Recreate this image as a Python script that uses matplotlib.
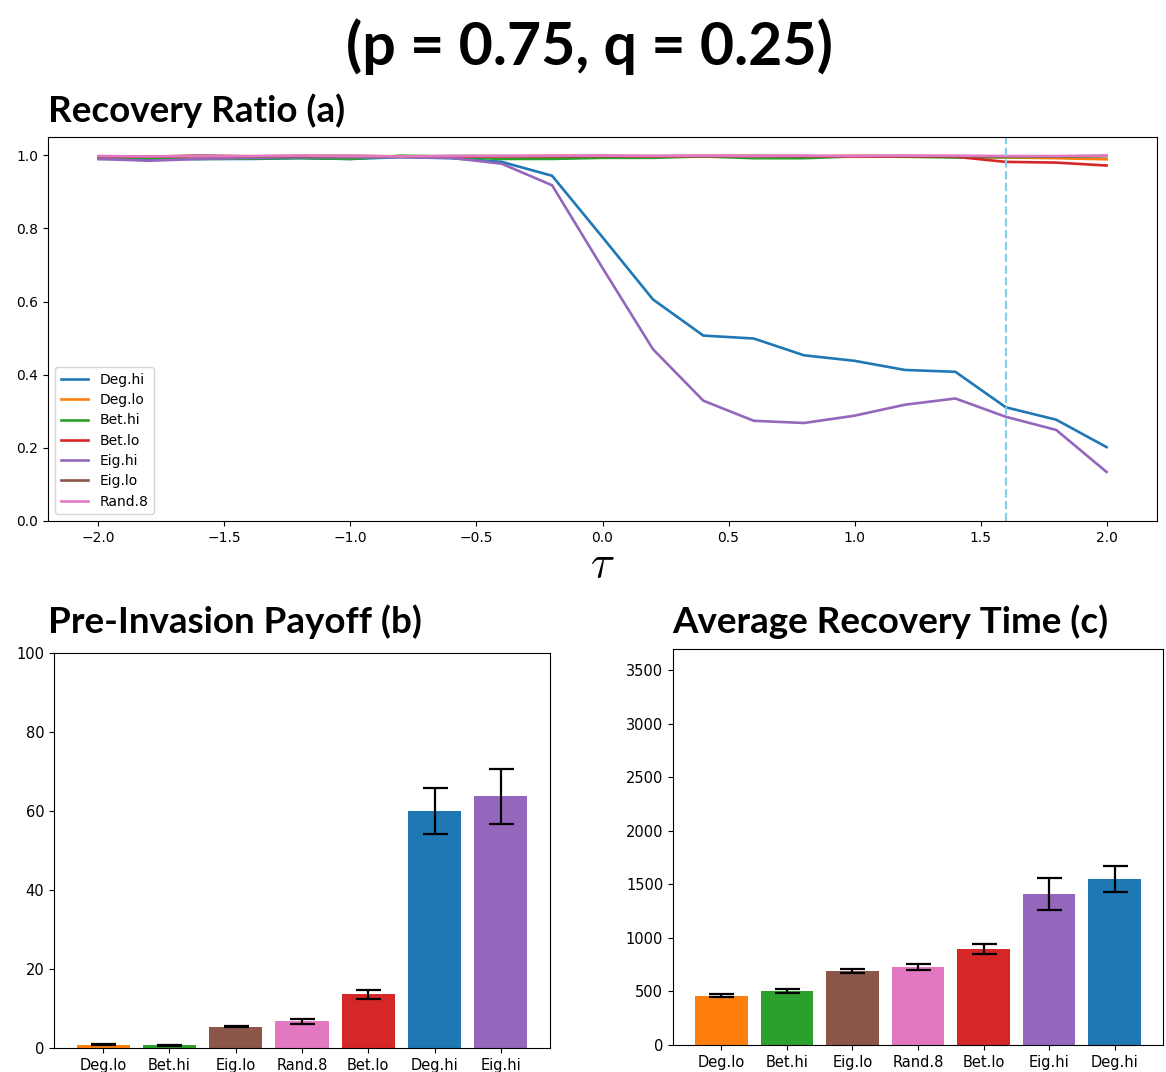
import numpy as np
import matplotlib.pyplot as plt

plt.rcParams['mathtext.fontset'] = 'cm'

# tau sweep for the recovery ratio panel
tau = [-2.0, -1.8, -1.6, -1.4, -1.2, -1.0, -0.8, -0.6, -0.4, -0.2, 0.0,
       0.2, 0.4, 0.6, 0.8, 1.0, 1.2, 1.4, 1.6, 1.8, 2.0]

deg_hi = [0.990, 0.990, 0.990, 0.990, 0.992, 0.990, 0.995, 0.992, 0.982, 0.944, 0.776,
          0.606, 0.507, 0.499, 0.453, 0.438, 0.413, 0.408, 0.311, 0.277, 0.202]
deg_lo = [0.996, 0.997, 0.998, 0.997, 0.998, 0.997, 0.996, 0.997, 0.997, 0.996, 0.997,
          0.997, 0.998, 0.997, 0.997, 0.998, 0.997, 0.996, 0.994, 0.992, 0.989]
bet_hi = [0.993, 0.992, 0.990, 0.991, 0.993, 0.990, 0.999, 0.996, 0.990, 0.990, 0.993,
          0.993, 0.997, 0.992, 0.992, 0.997, 0.996, 0.994, 0.995, 0.996, 0.998]
bet_lo = [0.996, 0.996, 0.998, 0.997, 0.998, 0.998, 0.997, 0.996, 0.997, 0.998, 0.998,
          0.997, 0.998, 0.998, 0.998, 0.996, 0.997, 0.996, 0.982, 0.980, 0.972]
eig_hi = [0.990, 0.985, 0.990, 0.993, 0.995, 0.995, 0.995, 0.993, 0.977, 0.918, 0.692,
          0.470, 0.329, 0.274, 0.268, 0.288, 0.318, 0.335, 0.285, 0.249, 0.134]
eig_lo = [0.997, 0.996, 0.999, 0.997, 0.997, 0.998, 0.997, 0.998, 0.998, 0.997, 0.998,
          0.998, 0.997, 0.998, 0.997, 0.998, 0.998, 0.997, 0.997, 0.997, 0.998]
rand_8 = [0.998, 0.997, 0.998, 0.998, 0.999, 0.998, 0.997, 0.998, 0.998, 0.999, 0.999,
          0.998, 0.999, 0.998, 0.999, 0.998, 0.999, 0.999, 0.998, 0.998, 0.999]

series_names = ['Deg.hi', 'Deg.lo', 'Bet.hi', 'Bet.lo', 'Eig.hi', 'Eig.lo', 'Rand.8']
series_vals = [deg_hi, deg_lo, bet_hi, bet_lo, eig_hi, eig_lo, rand_8]
tau_mark = 1.6

# pre-invasion payoff (b)
pay_names = ['Deg.lo', 'Bet.hi', 'Eig.lo', 'Rand.8', 'Bet.lo', 'Deg.hi', 'Eig.hi']
pay_mean = [0.8, 0.7, 5.4, 6.8, 13.6, 60.0, 63.7]
pay_err = [0.1, 0.1, 0.2, 0.6, 1.1, 5.9, 6.9]

# average recovery time (c)
rec_names = ['Deg.lo', 'Bet.hi', 'Eig.lo', 'Rand.8', 'Bet.lo', 'Eig.hi', 'Deg.hi']
rec_mean = [462, 504, 690, 733, 895, 1415, 1552]
rec_err = [18, 17, 20, 28, 47, 150, 125]

colors = dict(zip(series_names, plt.cm.tab10.colors[:7]))

W, H = 1166, 1072
fig = plt.figure(figsize=(W / 100, H / 100), dpi=100)

def px_axes(l, t, r, b):
    return fig.add_axes([l / W, 1 - b / H, (r - l) / W, (b - t) / H])

head = dict(family='Lato', fontweight='bold', color='black')
fig.text(589 / W, 1 - 65 / H, '(p = 0.75, q = 0.25)', ha='center', va='baseline',
         fontsize=42.5, **head)
fig.text(48 / W, 1 - 122 / H, 'Recovery Ratio (a)', ha='left', va='baseline',
         fontsize=26.5, **head)
fig.text(48 / W, 1 - 633 / H, 'Pre-Invasion Payoff (b)', ha='left', va='baseline',
         fontsize=26.5, **head)
fig.text(672 / W, 1 - 633 / H, 'Average Recovery Time (c)', ha='left', va='baseline',
         fontsize=26.5, **head)

# (a) recovery ratio vs tau
ax = px_axes(48, 137, 1157, 521)
for name, vals in zip(series_names, series_vals):
    ax.plot(tau, vals, color=colors[name], lw=1.9, label=name)
ax.axvline(tau_mark, color='skyblue', ls='--', lw=1.6)
ax.set_ylim(0, 1.05)
ax.set_xlim(-2.2, 2.2)
ax.set_xticks(np.arange(-2.0, 2.01, 0.5))
ax.set_yticks(np.arange(0, 1.01, 0.2))
ax.tick_params(labelsize=10)
ax.legend(loc='lower left', fontsize=10, handlelength=2.0, labelspacing=0.45)
fig.text(602 / W, 1 - 565 / H, r'$\tau$', ha='center', va='center', fontsize=32)

# (b) payoff bars
ax = px_axes(54, 653, 550, 1048)
ax.bar(pay_names, pay_mean, yerr=pay_err, color=[colors[n] for n in pay_names],
       capsize=9, error_kw=dict(elinewidth=1.6, capthick=1.6))
ax.set_ylim(0, 100)
ax.tick_params(labelsize=10.5)

# (c) recovery time bars
ax = px_axes(673, 649, 1163, 1045)
ax.bar(rec_names, rec_mean, yerr=rec_err, color=[colors[n] for n in rec_names],
       capsize=9, error_kw=dict(elinewidth=1.6, capthick=1.6))
ax.set_ylim(0, 3700)
ax.set_yticks(np.arange(0, 3501, 500))
ax.tick_params(labelsize=10.5)

fig.savefig('out.png', dpi=100)
